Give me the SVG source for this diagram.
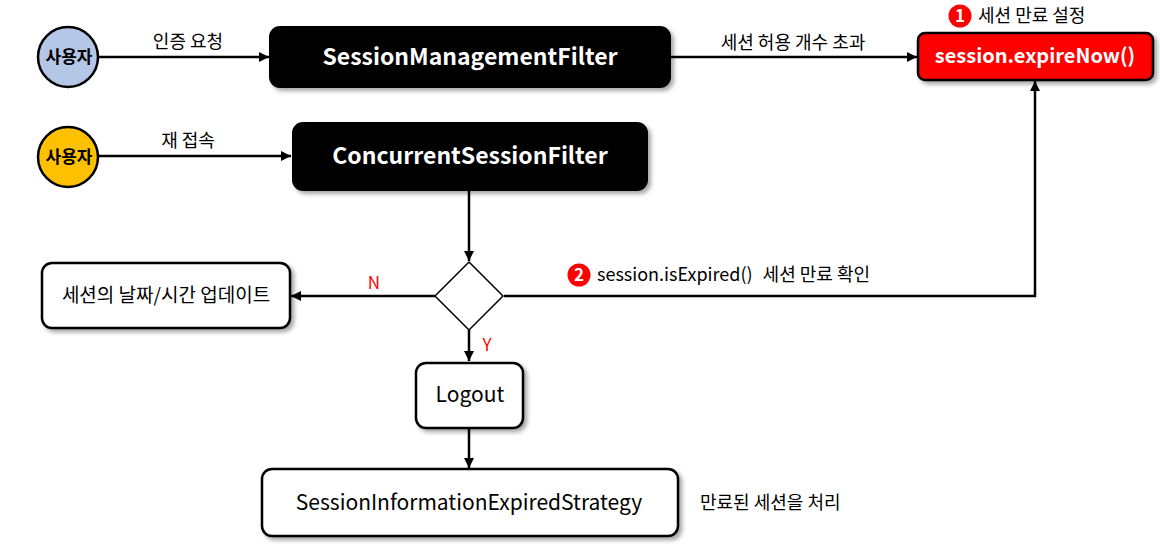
<svg xmlns="http://www.w3.org/2000/svg" width="1160" height="554" viewBox="0 0 1160 554">
  <defs>
    <filter id="sh" x="-10%" y="-20%" width="130%" height="150%">
      <feDropShadow dx="3" dy="3" stdDeviation="2" flood-color="#000" flood-opacity="0.35"/>
    </filter>
    <marker id="arr" viewBox="0 0 10 10" refX="10" refY="5" markerWidth="10" markerHeight="10" markerUnits="userSpaceOnUse" orient="auto">
      <path d="M0,0 L10,5 L0,10 z" fill="#000"/>
    </marker>
  </defs>
  <style>
    text { font-family: "Noto Sans CJK KR", "Noto Sans", sans-serif; }
    .lbl { font-size: 18px; fill: #000; }
    .dark { fill: #000; stroke: #000; stroke-width: 2; }
    .white { fill: #fff; stroke: #000; stroke-width: 2.5; }
    .title { font-size: 23px; font-weight: bold; fill: #fff; }
    .conn { stroke: #000; stroke-width: 2.5; fill: none; }
    .red { fill: #ff0000; font-size: 17px; }
    .badge { fill: #f00; }
    .badgeTxt { fill: #fff; font-size: 17px; font-weight: bold; }
  </style>

  <g id="connectors">
    <line class="conn" x1="98" y1="57" x2="269" y2="57" marker-end="url(#arr)"/>
    <line class="conn" x1="98" y1="156" x2="291" y2="156" marker-end="url(#arr)"/>
    <line class="conn" x1="670" y1="57" x2="917" y2="57" marker-end="url(#arr)"/>
    <line class="conn" x1="469" y1="190" x2="469" y2="261" marker-end="url(#arr)"/>
    <line class="conn" x1="435" y1="296" x2="291" y2="296" marker-end="url(#arr)"/>
    <line class="conn" x1="469" y1="330" x2="469" y2="361" marker-end="url(#arr)"/>
    <line class="conn" x1="469" y1="428" x2="469" y2="468" marker-end="url(#arr)"/>
    <polyline class="conn" points="504,296 1035,296 1035,81" marker-end="url(#arr)"/>
    <text class="lbl" x="188" y="48" text-anchor="middle">인증 요청</text>
    <text class="lbl" x="188" y="147" text-anchor="middle">재 접속</text>
    <text class="lbl" x="793" y="49" text-anchor="middle">세션 허용 개수 초과</text>
    <text class="red" x="374" y="289" text-anchor="middle">N</text>
    <text class="red" x="487" y="351" text-anchor="middle">Y</text>
    <circle class="badge" cx="579" cy="275" r="11.5"/>
    <text class="badgeTxt" x="579" y="281" text-anchor="middle">2</text>
    <text class="lbl" x="597" y="281">session.isExpired()<tspan dx="10">세션 만료 확인</tspan></text>
  </g>

  <g id="user1">
    <circle cx="68" cy="57" r="30" fill="#b4c7e7" stroke="#000" stroke-width="2.5"/>
    <text x="69" y="63" text-anchor="middle" font-size="17" font-weight="bold">사용자</text>
  </g>
  <g id="user2">
    <circle cx="68" cy="157" r="30" fill="#ffc000" stroke="#000" stroke-width="2.5"/>
    <text x="69" y="163" text-anchor="middle" font-size="17" font-weight="bold">사용자</text>
  </g>

  <g id="sessionManagementFilter">
    <rect class="dark" x="270" y="27" width="400" height="60" rx="10" filter="url(#sh)"/>
    <text class="title" x="470" y="65" text-anchor="middle">SessionManagementFilter</text>
  </g>
  <g id="concurrentSessionFilter">
    <rect class="dark" x="293" y="123" width="354" height="67" rx="10" filter="url(#sh)"/>
    <text class="title" x="470" y="164" text-anchor="middle" font-size="22">ConcurrentSessionFilter</text>
  </g>
  <g id="expireNow">
    <rect x="918" y="33" width="235" height="47" rx="7" fill="#ff0000" stroke="#000" stroke-width="2.5" filter="url(#sh)"/>
    <text x="1035" y="63" text-anchor="middle" font-size="20" font-weight="bold" fill="#fff">session.expireNow()</text>
    <circle class="badge" cx="960" cy="16" r="11.5"/>
    <text class="badgeTxt" x="960" y="22" text-anchor="middle">1</text>
    <text class="lbl" x="978" y="22">세션 만료 설정</text>
  </g>

  <g id="decision">
    <polygon points="469,262 503,296 469,330 435,296" fill="#fff" stroke="#000" stroke-width="1.5"/>
  </g>

  <g id="updateSession">
    <rect class="white" x="42" y="263" width="248" height="65" rx="10" filter="url(#sh)"/>
    <text x="166" y="302" text-anchor="middle" font-size="19" fill="#000">세션의 날짜/시간 업데이트</text>
  </g>

  <g id="logout">
    <rect class="white" x="416" y="363" width="107" height="65" rx="10" filter="url(#sh)"/>
    <text x="470" y="402" text-anchor="middle" font-size="21" fill="#000">Logout</text>
  </g>

  <g id="strategy">
    <rect class="white" x="262" y="469" width="416" height="67" rx="10" filter="url(#sh)"/>
    <text x="469" y="510" text-anchor="middle" font-size="21" fill="#000">SessionInformationExpiredStrategy</text>
    <text x="700" y="509" font-size="18" fill="#000">만료된 세션을 처리</text>
  </g>
</svg>
